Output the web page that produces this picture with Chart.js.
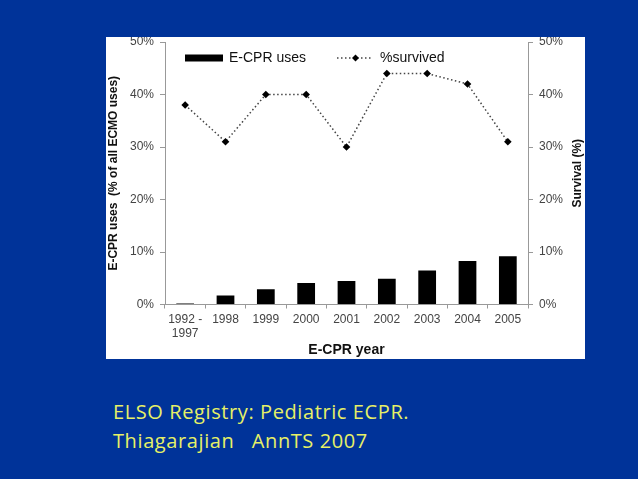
<!DOCTYPE html>
<html>
<head>
<meta charset="utf-8">
<script src="https://cdn.jsdelivr.net/npm/chart.js@4.4.0/dist/chart.umd.min.js"></script>
<style>
  html, body { margin: 0; padding: 0; }
  body { width: 638px; height: 479px; background: #003399; position: relative; overflow: hidden; }
  #box { position: absolute; left: 106px; top: 37px; width: 479px; height: 322px; background: #fff; }
  .cite { position: absolute; left: 113px; font-family: "Open Sans", sans-serif; font-size: 20px;
          letter-spacing: 0.6px; line-height: 29px; color: #e6f066; white-space: pre; }
</style>
</head>
<body>
<div id="box"><canvas id="ecpr-chart" width="479" height="322"></canvas></div>
<div class="cite" style="top:397px">ELSO Registry: Pediatric ECPR.</div>
<div class="cite" style="top:425.5px">Thiagarajian   AnnTS 2007</div>

<script>
// data
var years = [['1992 -', '1997'], '1998', '1999', '2000', '2001', '2002', '2003', '2004', '2005'];
var ecprUses = [0.2, 1.7, 2.9, 4.1, 4.5, 4.9, 6.5, 8.3, 9.2];
var survived = [38, 31, 40, 40, 30, 44, 44, 42, 31];
var pctTicks = [0, 10, 20, 30, 40, 50];

var tickFont = { family: 'Liberation Sans', size: 12 };
var titleFont = { family: 'Liberation Sans', size: 12, weight: 'bold' };

// legend + right title drawn by hand (the right title reads bottom-up)
var overlay = {
    id: 'overlay',
    afterDraw: function(chart){
        var ctx = chart.ctx;
        var a = chart.chartArea;
        var ly = 21;
        ctx.save();
        ctx.fillStyle = '#000';
        ctx.fillRect(79, ly - 3.5, 38, 7);
        ctx.font = '14px "Liberation Sans"';
        ctx.fillStyle = '#111';
        ctx.textBaseline = 'middle';
        ctx.fillText('E-CPR uses', 123, ly);

        ctx.strokeStyle = '#444';
        ctx.lineWidth = 1.5;
        ctx.setLineDash([1.5, 2.5]);
        ctx.beginPath();
        ctx.moveTo(231, ly);
        ctx.lineTo(267, ly);
        ctx.stroke();
        ctx.setLineDash([]);
        ctx.fillStyle = '#000';
        ctx.beginPath();
        ctx.moveTo(249.5, ly - 3.5);
        ctx.lineTo(253, ly);
        ctx.lineTo(249.5, ly + 3.5);
        ctx.lineTo(246, ly);
        ctx.closePath();
        ctx.fill();
        ctx.fillStyle = '#111';
        ctx.fillText('%survived', 274, ly);

        ctx.translate(472, (a.top + a.bottom) / 2);
        ctx.rotate(-Math.PI / 2);
        ctx.textAlign = 'center';
        ctx.font = 'bold 12px "Liberation Sans"';
        ctx.fillStyle = '#111';
        ctx.fillText('Survival (%)', 0, 0);
        ctx.restore();
    }
};

function pctAxis(pos, w){
    return {
        type: 'linear',
        position: pos,
        min: 0,
        max: 50,
        afterBuildTicks: function(s){ s.ticks = pctTicks.map(function(v){ return { value: v }; }); },
        afterFit: function(s){ s.width = w; s.paddingTop = 0; s.paddingBottom = 0; },
        ticks: { font: tickFont, color: '#444', padding: 6, callback: function(v){ return v + '%'; } },
        grid: { drawOnChartArea: false, color: '#999', tickLength: 5 },
        border: { color: '#999' }
    };
}

var yLeft = pctAxis('left', 59);
yLeft.title = { display: true, text: 'E-CPR uses  (% of all ECMO uses)', font: titleFont, color: '#111', padding: 0 };
var yRight = pctAxis('right', 57);

var ctx = document.getElementById('ecpr-chart');
var myChart = new Chart(ctx, {
    type: 'bar',
    data: {
        labels: years,
        datasets: [{
            type: 'line',
            label: '%survived',
            data: survived,
            yAxisID: 'y1',
            borderColor: '#444',
            borderWidth: 1.5,
            borderDash: [1.5, 2.5],
            pointStyle: 'rectRot',
            pointRadius: 3.8,
            pointBackgroundColor: '#000',
            pointBorderColor: '#000',
            pointBorderWidth: 0,
            tension: 0,
            fill: false
        }, {
            label: 'E-CPR uses',
            data: ecprUses,
            yAxisID: 'y',
            backgroundColor: '#000',
            borderWidth: 0,
            categoryPercentage: 1,
            barPercentage: 0.44
        }]
    },
    options: {
        responsive: false,
        animation: false,
        layout: { padding: { top: 5 } },
        plugins: { legend: { display: false }, tooltip: { enabled: false } },
        scales: {
            x: {
                ticks: { font: tickFont, color: '#444', padding: 4, maxRotation: 0, autoSkip: false },
                grid: { drawOnChartArea: false, color: '#999', tickLength: 4, offset: true },
                border: { color: '#999' },
                title: { display: true, text: 'E-CPR year', font: { family: 'Liberation Sans', size: 14, weight: 'bold' }, color: '#111', padding: 0 },
                afterFit: function(s){ s.height = 54.5; }
            },
            y: yLeft,
            y1: yRight
        }
    },
    plugins: [overlay]
});
</script>
</body>
</html>
